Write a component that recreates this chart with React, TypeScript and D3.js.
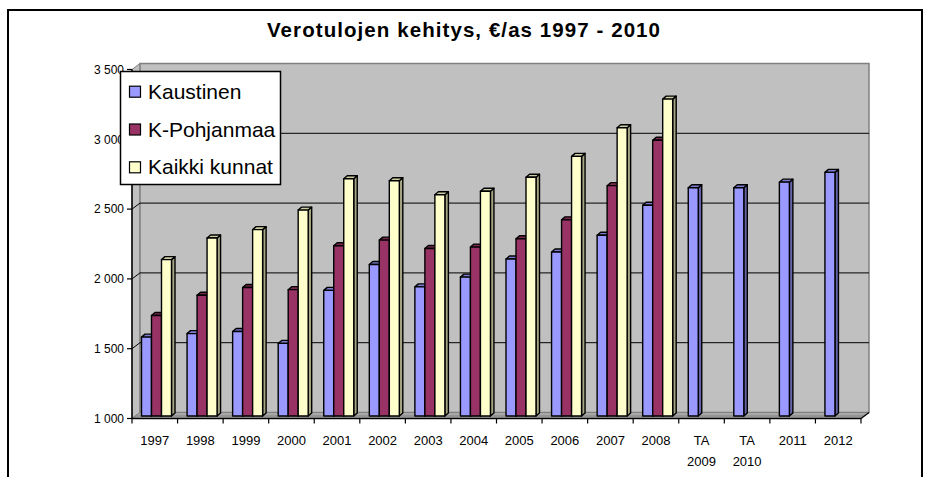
import React from 'react'
import * as d3 from 'd3'

const W = 926
const H = 477

// category labels (a space splits the label onto two lines)
const categories = [
  '1997', '1998', '1999', '2000', '2001', '2002', '2003', '2004',
  '2005', '2006', '2007', '2008', 'TA 2009', 'TA 2010', '2011', '2012',
]
const kaustinen = [1565, 1590, 1605, 1520, 1900, 2085, 1925, 1995, 2125, 2175, 2295, 2510, 2635, 2635, 2675, 2745]
const kPohjanmaa = [1720, 1865, 1920, 1905, 2220, 2260, 2200, 2210, 2270, 2405, 2650, 2975, null, null, null, null]
const kaikkiKunnat = [2120, 2275, 2335, 2475, 2700, 2685, 2585, 2610, 2710, 2860, 3065, 3270, null, null, null, null]

const seriesNames = ['Kaustinen', 'K-Pohjanmaa', 'Kaikki kunnat']
const seriesColors = ['#9999ff', '#993366', '#ffffcc']
const seriesValues = [kaustinen, kPohjanmaa, kaikkiKunnat]

const FONT = 'Liberation Sans, Arial, sans-serif'

// front axis frame and 3d depth of the walls
const AX_LEFT = 132
const AX_RIGHT = 861
const DX = 8
const DY = 6
// bars sit half way into the depth
const BAR_DY = 2.5
const BD_X = 3.5
const BD_Y = 3

const fmt = d3.formatLocale({ decimal: ',', thousands: '\u00a0', grouping: [3], currency: ['', '€'] }).format(',')

export default function App() {
  const y = d3.scaleLinear().domain([1000, 3500]).range([418.5, 69.5])
  const x = d3.scaleBand<string>().domain(categories).range([AX_LEFT, AX_RIGHT])
  const xs = d3.scaleBand<string>().domain(seriesNames).range([9.5, 39.5])
  const ticks = y.ticks(5)
  const y0 = y(1000)
  const yTop = y(3500)

  const bars: JSX.Element[] = []
  categories.forEach((cat, ci) => {
    seriesNames.forEach((name, si) => {
      const v = seriesValues[si][ci]
      if (v == null) return
      const bx = x(cat)! + xs(name)!
      const bw = xs.bandwidth()
      const top = y(v) - BAR_DY
      const bottom = y0 - BAR_DY
      const c = d3.color(seriesColors[si])!
      const side = c.darker(1.2).toString()
      const lid = c.darker(0.6).toString()
      bars.push(
        <g key={cat + name} stroke="#000" strokeWidth={1.4} strokeLinejoin="round">
          <path
            d={`M${bx + bw},${top} L${bx + bw + BD_X},${top - BD_Y} L${bx + bw + BD_X},${bottom - BD_Y} L${bx + bw},${bottom} Z`}
            fill={side}
          />
          <path
            d={`M${bx},${top} L${bx + BD_X},${top - BD_Y} L${bx + bw + BD_X},${top - BD_Y} L${bx + bw},${top} Z`}
            fill={lid}
          />
          <rect x={bx} y={top} width={bw} height={bottom - top} fill={seriesColors[si]} />
        </g>
      )
    })
  })

  return (
    <svg
      width={W}
      height={H}
      style={{ position: 'absolute', left: 0, top: 0, background: '#fff' }}
      fontFamily={FONT}
    >
      <rect x={8} y={10} width={914} height={520} fill="#fff" stroke="#000" strokeWidth={2} />

      <text
        x={463.5}
        y={37}
        textAnchor="middle"
        fontSize={20.5}
        fontWeight="bold"
        textLength={393}
        lengthAdjust="spacing"
      >
        Verotulojen kehitys, €/as 1997 - 2010
      </text>

      {/* walls and floor */}
      <polygon
        points={`${AX_LEFT},${yTop} ${AX_LEFT + DX},${yTop - DY} ${AX_LEFT + DX},${y0 - DY} ${AX_LEFT},${y0}`}
        fill="#c0c0c0"
        stroke="#808080"
      />
      <rect
        x={AX_LEFT + DX}
        y={yTop - DY}
        width={AX_RIGHT - AX_LEFT}
        height={y0 - yTop}
        fill="#c0c0c0"
        stroke="#808080"
        strokeWidth={1.5}
      />
      <polygon
        points={`${AX_LEFT},${y0} ${AX_LEFT + DX},${y0 - DY} ${AX_RIGHT + DX},${y0 - DY} ${AX_RIGHT},${y0}`}
        fill="#a8a8a8"
        stroke="#808080"
      />
      <line x1={AX_LEFT + 3} x2={AX_RIGHT + 3} y1={y0 - 2.5} y2={y0 - 2.5} stroke="#808080" />

      {/* gridlines */}
      {ticks.filter(t => t > 1000 && t < 3500).map(t => (
        <g key={t} stroke="#000" strokeWidth={1}>
          <line x1={AX_LEFT} y1={y(t)} x2={AX_LEFT + DX} y2={y(t) - DY} />
          <line x1={AX_LEFT + DX} y1={y(t) - DY} x2={AX_RIGHT + DX} y2={y(t) - DY} />
        </g>
      ))}

      {bars}

      {/* y axis */}
      <line x1={AX_LEFT} x2={AX_LEFT} y1={yTop} y2={y0} stroke="#000" strokeWidth={1.5} />
      {ticks.map(t => (
        <g key={t}>
          <line x1={AX_LEFT - 5} x2={AX_LEFT} y1={y(t)} y2={y(t)} stroke="#000" strokeWidth={1.2} />
          <text x={AX_LEFT - 8} y={y(t)} dy="0.35em" textAnchor="end" fontSize={12}>
            {fmt(t)}
          </text>
        </g>
      ))}

      {/* x axis */}
      <line x1={AX_LEFT} x2={AX_RIGHT} y1={y0} y2={y0} stroke="#000" strokeWidth={1.5} />
      <line x1={AX_RIGHT} x2={AX_RIGHT + DX} y1={y0} y2={y0 - DY} stroke="#000" strokeWidth={1.2} />
      {[...categories.map(c => x(c)!), AX_RIGHT].map((tx, i) => (
        <line key={i} x1={tx} x2={tx} y1={y0} y2={y0 + 5} stroke="#000" strokeWidth={1.2} />
      ))}
      {categories.map(c => {
        const cx = x(c)! + x.bandwidth() / 2
        const parts = c.split(' ')
        return (
          <text key={c} x={cx} y={444.5} textAnchor="middle" fontSize={13}>
            {parts.map((p, i) => (
              <tspan key={i} x={cx} y={444.5 + i * 21}>{p}</tspan>
            ))}
          </text>
        )
      })}

      {/* legend */}
      <g>
        <rect x={120.5} y={71.5} width={160} height={113} fill="#fff" stroke="#000" strokeWidth={1.5} />
        {seriesNames.map((name, i) => {
          const cy = 91.7 + i * 37.8
          return (
            <g key={name}>
              <rect x={129.5} y={cy - 5.5} width={11} height={11} fill={seriesColors[i]} stroke="#000" strokeWidth={1.2} />
              <text x={148} y={cy + 7} fontSize={21}>{name}</text>
            </g>
          )
        })}
      </g>
    </svg>
  )
}
